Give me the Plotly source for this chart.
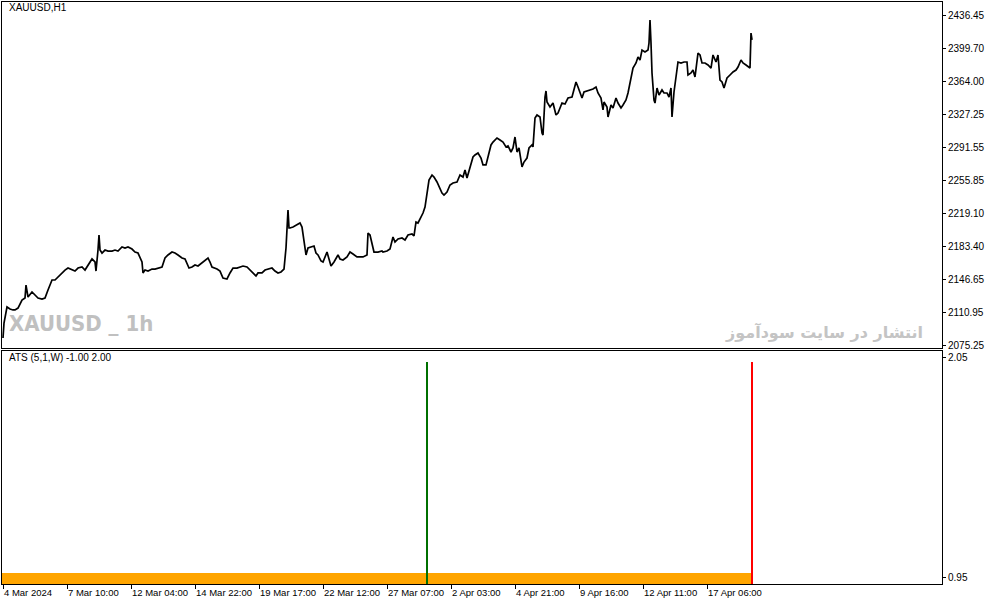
import plotly.graph_objects as go

# ---------------- data (hourly XAUUSD closes) ----------------
bars_1 = [0, 1, 4, 7, 10, 12, 15, 19, 22, 23, 25, 29, 32, 35, 39, 42, 45, 49, 52, 55,
          59, 62, 65, 69, 72, 75, 79, 82, 85, 89, 92, 93, 95, 96, 97, 99, 102, 105, 109, 112,
          115, 119, 122, 125, 129, 132, 135, 139, 140, 142, 145, 149, 152, 155, 159, 162, 165, 169, 172, 175,
          179, 182, 185, 186]
close_1 = [2082.9, 2099.3, 2116.8, 2114.6, 2113.6, 2113.6, 2115.7, 2124.5, 2126.7, 2140.9,
           2127.8, 2133.3, 2130.0, 2126.7, 2125.6, 2126.7, 2135.4, 2146.4, 2146.4, 2149.7,
           2154.1, 2157.3, 2159.5, 2157.3, 2156.2, 2159.5, 2160.6, 2157.3, 2162.8, 2169.4,
           2166.1, 2156.2, 2179.2, 2195.6, 2179.2, 2175.9, 2179.2, 2178.1, 2178.1, 2179.2,
           2178.1, 2182.5, 2181.4, 2182.5, 2180.3, 2177.0, 2175.9, 2166.1, 2154.1, 2157.3,
           2156.2, 2158.4, 2158.4, 2159.5, 2160.6, 2170.5, 2173.8, 2177.0, 2175.9, 2173.8,
           2170.5, 2169.4, 2162.8, 2159.5]

bars_2 = [189, 192, 195, 199, 202, 205, 207, 209, 214, 217, 220, 224, 227, 230, 234, 237, 240, 244, 247, 250,
          253, 255, 259, 262, 265, 269, 272, 275, 278, 281, 283, 284, 285, 286, 287, 290, 294, 297, 299, 301,
          303, 305, 309, 311, 313, 315, 318, 320, 324, 326, 328, 331, 335, 337, 340, 344, 347, 350, 354, 357,
          360, 364, 365, 367, 369, 371, 375, 379]
close_2 = [2160.6, 2162.8, 2161.7, 2165.0, 2168.3, 2170.5, 2166.1, 2160.6, 2158.4, 2156.2,
           2148.6, 2147.5, 2154.1, 2159.5, 2159.5, 2160.6, 2161.7, 2160.6, 2157.3, 2154.1,
           2150.8, 2154.1, 2154.1, 2157.3, 2158.4, 2159.5, 2156.2, 2154.1, 2155.2, 2158.4,
           2181.4, 2201.1, 2223.0, 2203.3, 2203.3, 2204.4, 2206.6, 2208.8, 2204.4, 2186.9,
           2173.8, 2181.4, 2182.5, 2183.6, 2175.9, 2173.8, 2167.2, 2166.1, 2177.0, 2168.3,
           2161.7, 2166.1, 2173.8, 2169.4, 2168.3, 2171.6, 2177.0, 2174.9, 2171.6, 2171.6,
           2171.6, 2173.8, 2197.8, 2195.6, 2186.9, 2177.0, 2177.0, 2178.1]

bars_3 = [380, 384, 387, 390, 392, 395, 399, 402, 405, 409, 411, 413, 415, 418, 420, 422, 424, 426, 429, 431,
          434, 436, 439, 441, 444, 447, 450, 454, 457, 460, 462, 464, 467, 470, 472, 475, 478, 480, 483, 485,
          488, 490, 494, 497, 500, 503, 505, 508, 510, 512, 514, 516, 519, 521, 524, 526, 529, 530, 532, 534,
          537, 539, 540, 542, 543, 544, 547, 550, 553, 555, 559, 562]
close_3 = [2177.0, 2178.1, 2180.3, 2193.5, 2188.0, 2191.3, 2192.4, 2190.2, 2195.6, 2196.7,
           2194.6, 2209.9, 2208.8, 2215.3, 2219.7, 2226.3, 2241.6, 2255.8, 2261.3, 2259.1,
           2253.7, 2248.2, 2241.6, 2239.4, 2242.7, 2250.4, 2252.6, 2253.7, 2261.3, 2259.1,
           2266.8, 2258.0, 2270.1, 2281.0, 2283.2, 2285.4, 2279.9, 2272.3, 2272.3, 2279.9,
           2294.2, 2297.4, 2301.8, 2299.6, 2297.4, 2292.0, 2293.1, 2286.5, 2290.9, 2302.9,
           2286.5, 2290.9, 2270.1, 2275.5, 2279.9, 2290.9, 2294.2, 2292.0, 2323.7, 2327.0,
           2324.8, 2307.3, 2305.1, 2346.7, 2353.3, 2341.2, 2335.7, 2340.1, 2327.0, 2329.2,
           2340.1, 2339.0]

bars_4 = [565, 569, 571, 573, 575, 577, 579, 581, 584, 587, 590, 593, 595, 598, 600, 601, 604, 605, 608, 610,
          613, 615, 618, 620, 623, 625, 627, 629, 630, 633, 635, 637, 639, 642, 645, 646, 647, 648, 649, 651,
          652, 654, 656, 659, 661, 664, 666, 668, 669, 671, 673, 675, 678, 681, 684, 685, 688, 690, 692, 695,
          697, 699, 702, 705, 708, 710, 713, 715, 717, 719, 721, 724, 727, 730, 733, 735, 738, 740, 743, 745,
          747, 748, 749]
close_4 = [2345.6, 2346.7, 2354.4, 2363.1, 2357.6, 2351.1, 2345.6, 2352.2, 2353.3, 2354.4,
           2355.4, 2357.6, 2351.1, 2345.6, 2332.5, 2341.2, 2335.7, 2324.8, 2337.9, 2334.7,
           2345.6, 2340.1, 2334.7, 2337.9, 2343.4, 2351.1, 2362.0, 2376.2, 2378.4, 2383.9,
           2390.5, 2387.2, 2398.1, 2395.9, 2398.1, 2405.8, 2431.0, 2405.8, 2373.0, 2343.4,
           2340.1, 2356.5, 2348.9, 2354.4, 2351.1, 2351.1, 2346.7, 2356.5, 2324.8, 2352.2,
           2368.6, 2385.0, 2383.9, 2385.0, 2385.0, 2370.8, 2373.0, 2376.2, 2368.6, 2394.8,
           2392.7, 2383.9, 2383.9, 2381.7, 2378.4, 2392.7, 2385.0, 2392.7, 2365.3, 2363.1,
           2356.5, 2367.5, 2370.8, 2374.1, 2376.2, 2379.5, 2387.2, 2383.9, 2381.7, 2379.5,
           2378.4, 2416.7, 2409.1]

bars = bars_1 + bars_2 + bars_3 + bars_4
close = close_1 + close_2 + close_3 + close_4
assert len(bars) == len(close)

price_ticks = [2436.45, 2399.70, 2364.00, 2327.25, 2291.55, 2255.85,
               2219.10, 2183.40, 2146.65, 2110.95, 2075.25]

time_labels = ["4 Mar 2024", "7 Mar 10:00", "12 Mar 04:00", "14 Mar 22:00",
               "19 Mar 17:00", "22 Mar 12:00", "27 Mar 07:00", "2 Apr 03:00",
               "4 Apr 21:00", "9 Apr 16:00", "12 Apr 11:00", "17 Apr 06:00"]
label_step = 64  # bars between time labels

# ATS indicator histogram
n_bars = 750
ats_base_level = 0.97
signal_bars = [424, 749]
signal_values = [2.025, 2.025]
signal_colors = ["#007000", "#FF0000"]
ats_ticks = [2.05, 0.95]

# ---------------- figure ----------------
fig = go.Figure()

fig.add_trace(go.Scatter(x=bars, y=close, mode="lines",
                         line=dict(color="black", width=1.7),
                         xaxis="x", yaxis="y", hoverinfo="skip"))

orange_x = [i for i in range(n_bars) if i not in signal_bars]
orange_y = [ats_base_level for _ in orange_x]
fig.add_trace(go.Bar(x=orange_x, y=orange_y, width=1.0,
                     marker=dict(color="#FFA500", line=dict(width=0)),
                     xaxis="x2", yaxis="y2", hoverinfo="skip"))
fig.add_trace(go.Bar(x=signal_bars, y=signal_values, width=1.0,
                     marker=dict(color=signal_colors, line=dict(width=0)),
                     xaxis="x2", yaxis="y2", hoverinfo="skip"))

tick_font = dict(family="Liberation Sans, Arial, sans-serif", size=10, color="black")
xtick_font = dict(family="Liberation Sans, Arial, sans-serif", size=9.5, color="black")
xr = [-1, 939]

fig.update_layout(
    width=987, height=605,
    margin=dict(l=2, r=45, t=2, b=21),
    paper_bgcolor="white", plot_bgcolor="white",
    showlegend=False, bargap=0, barmode="overlay",
    font=tick_font,
    xaxis=dict(domain=[0, 1], range=xr, anchor="y", showgrid=False, zeroline=False,
               showticklabels=False, ticks="", showline=True, mirror=True,
               linecolor="black", linewidth=1, automargin=False),
    yaxis=dict(domain=[0.4055, 1], range=[2071.97, 2450.68], anchor="x", side="right",
               tickvals=price_ticks, ticktext=[f"{v:.2f}" for v in price_ticks],
               ticks="outside", ticklen=3, tickcolor="black", showgrid=False,
               zeroline=False, showline=True, mirror=True, linecolor="black",
               linewidth=1, tickfont=tick_font, automargin=False),
    xaxis2=dict(domain=[0, 1], range=xr, anchor="y2", showgrid=False, zeroline=False,
                tickvals=[k * label_step for k in range(len(time_labels))],
                ticktext=time_labels, ticks="outside", ticklen=4, tickcolor="black",
                ticklabelposition="outside right", tickangle=0, showline=True, mirror=True,
                linecolor="black", linewidth=1, tickfont=xtick_font, automargin=False),
    yaxis2=dict(domain=[0, 0.4003], range=[0.915, 2.08], anchor="x2", side="right",
                tickvals=ats_ticks, ticktext=[f"{v:.2f}" for v in ats_ticks],
                ticks="outside", ticklen=3, tickcolor="black", showgrid=False,
                zeroline=False, showline=True, mirror=True, linecolor="black",
                linewidth=1, tickfont=tick_font, automargin=False),
)

fig.add_annotation(text="XAUUSD,H1", xref="paper", yref="paper", x=0.005, y=0.99,
                   xanchor="left", yanchor="middle", showarrow=False,
                   font=dict(family="Liberation Sans, Arial, sans-serif", size=10, color="black"))
fig.add_annotation(text="ATS (5,1,W) -1.00 2.00", xref="paper", yref="paper", x=0.005,
                   y=0.389, xanchor="left", yanchor="middle", showarrow=False,
                   font=dict(family="Liberation Sans, Arial, sans-serif", size=10, color="black"))
fig.add_annotation(text="<b>XAUUSD _ 1h</b>", xref="paper", yref="paper", x=0.005, y=0.423,
                   xanchor="left", yanchor="bottom", showarrow=False,
                   font=dict(family="Liberation Sans Narrow, DejaVu Sans Condensed, sans-serif",
                             size=22, color="#C0C0C0"))
fig.add_annotation(text="<b>انتشار در سایت سودآموز</b>", xref="paper", yref="paper",
                   x=0.982, y=0.433, xanchor="right", yanchor="middle", showarrow=False,
                   font=dict(family="DejaVu Sans, sans-serif", size=16, color="#C4C4C4"))

fig.write_html("out.html", config={"displayModeBar": False},
               post_script="document.body.style.margin='0';document.body.style.overflow='hidden';")
